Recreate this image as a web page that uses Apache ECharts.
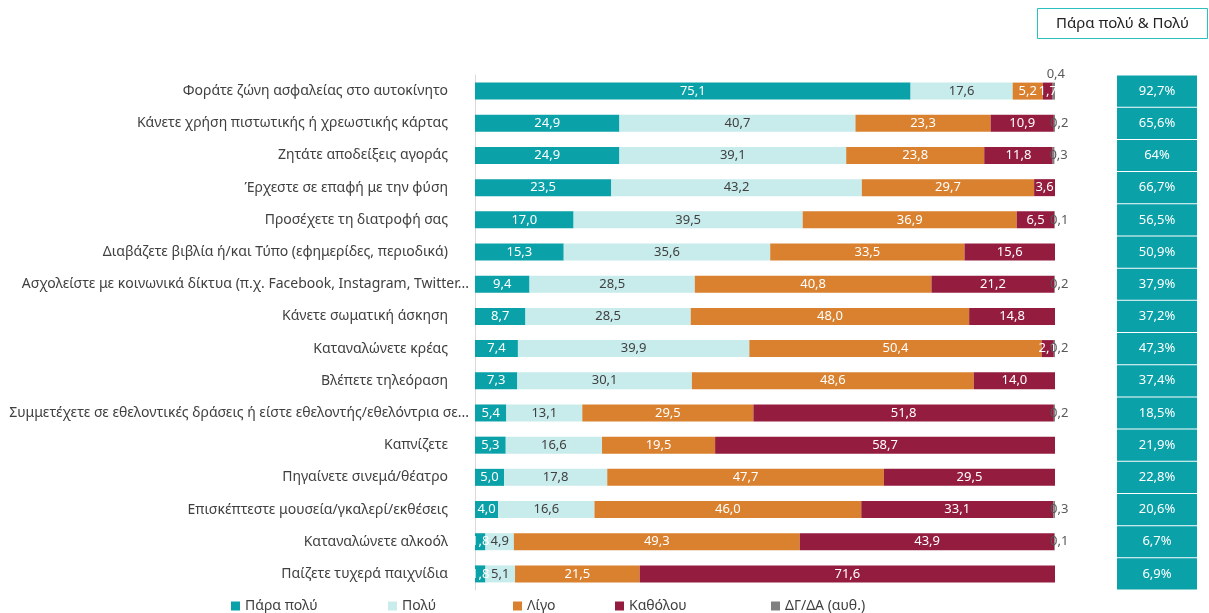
<!DOCTYPE html>
<html>
<head>
<meta charset="utf-8">
<script src="https://cdn.jsdelivr.net/npm/echarts@6/dist/echarts.min.js"></script>
<style>
  html, body { margin: 0; padding: 0; background: #fff; }
  #main { width: 1209px; height: 613px; }
</style>
</head>
<body>
<div id="main"></div>
<script>
// categories, top to bottom
const categories = [
    'Φοράτε ζώνη ασφαλείας στο αυτοκίνητο',
    'Κάνετε χρήση πιστωτικής ή χρεωστικής κάρτας',
    'Ζητάτε αποδείξεις αγοράς',
    'Έρχεστε σε επαφή με την φύση',
    'Προσέχετε τη διατροφή σας',
    'Διαβάζετε βιβλία ή/και Τύπο (εφημερίδες, περιοδικά)',
    'Ασχολείστε με κοινωνικά δίκτυα (π.χ. Facebook, Instagram, Twitter...',
    'Κάνετε σωματική άσκηση',
    'Καταναλώνετε κρέας',
    'Βλέπετε τηλεόραση',
    'Συμμετέχετε σε εθελοντικές δράσεις ή είστε εθελοντής/εθελόντρια σε...',
    'Καπνίζετε',
    'Πηγαίνετε σινεμά/θέατρο',
    'Επισκέπτεστε μουσεία/γκαλερί/εκθέσεις',
    'Καταναλώνετε αλκοόλ',
    'Παίζετε τυχερά παιχνίδια'
];
const seriesNames = ['Πάρα πολύ', 'Πολύ', 'Λίγο', 'Καθόλου', 'ΔΓ/ΔΑ (αυθ.)'];
const veryMuch = [75.1, 24.9, 24.9, 23.5, 17.0, 15.3, 9.4, 8.7, 7.4, 7.3, 5.4, 5.3, 5.0, 4.0, 1.8, 1.8];
const much     = [17.6, 40.7, 39.1, 43.2, 39.5, 35.6, 28.5, 28.5, 39.9, 30.1, 13.1, 16.6, 17.8, 16.6, 4.9, 5.1];
const little   = [5.2, 23.3, 23.8, 29.7, 36.9, 33.5, 40.8, 48.0, 50.4, 48.6, 29.5, 19.5, 47.7, 46.0, 49.3, 21.5];
const notAtAll = [1.7, 10.9, 11.8, 3.6, 6.5, 15.6, 21.2, 14.8, 2.1, 14.0, 51.8, 58.7, 29.5, 33.1, 43.9, 71.6];
const dkNa     = [0.4, 0.2, 0.3, 0, 0.1, 0, 0.2, 0, 0.2, 0, 0.2, 0, 0, 0.3, 0.1, 0];
const topTwo   = ['92,7%', '65,6%', '64%', '66,7%', '56,5%', '50,9%', '37,9%', '37,2%', '47,3%', '37,4%', '18,5%', '21,9%', '22,8%', '20,6%', '6,7%', '6,9%'];

const FONT = 'Noto Sans';
const fmt = p => p.value ? p.value.toFixed(1).replace('.', ',') : '';

function seg(name, data, color, labelColor) {
    return {
        name: name,
        type: 'bar',
        stack: 'all',
        barWidth: 17,
        data: data,
        itemStyle: {color: color},
        label: {show: true, position: 'inside', color: labelColor, fontFamily: FONT, fontSize: 13, formatter: fmt}
    };
}

// one legend per item, spaced like the original
const legendLeft = [226, 383, 508, 610, 766];

const chart = echarts.init(document.getElementById('main'));
chart.setOption({
    animation: false,
    textStyle: {fontFamily: FONT},
    legend: seriesNames.map((n, i) => ({
        left: legendLeft[i], top: 594, itemWidth: 9, itemHeight: 9, itemGap: 5,
        icon: 'rect',
        textStyle: {fontFamily: FONT, fontSize: 14, color: '#404040'},
        data: [n]
    })),
    graphic: [{
        type: 'group', left: 1037, top: 8,
        children: [
            {type: 'rect', shape: {x: 0, y: 0, width: 170, height: 30}, style: {fill: '#fff', stroke: '#2BC0C0', lineWidth: 1}},
            {type: 'text', x: 85, y: 15, style: {text: 'Πάρα πολύ & Πολύ', fill: '#222', font: '15px "Noto Sans"', align: 'center', verticalAlign: 'middle'}}
        ]
    }],
    grid: [
        {left: 475, right: 154, top: 75, bottom: 23},
        {left: 1117, right: 12, top: 75, bottom: 23}
    ],
    xAxis: [
        {gridIndex: 0, type: 'value', min: 0, max: 100, show: false},
        {gridIndex: 1, type: 'value', min: 0, max: 1, show: false}
    ],
    yAxis: [
        {
            gridIndex: 0, type: 'category', inverse: true, data: categories,
            axisLine: {show: true, lineStyle: {color: '#D9D9D9'}},
            axisTick: {show: false},
            axisLabel: {
                margin: 6, fontSize: 14, color: '#404040', fontFamily: FONT,
                // full labels sit further from the axis than the cut ones
                formatter: v => v.endsWith('...') ? '{cut|' + v + '}' : '{n|' + v + '}',
                rich: {
                    n: {fontSize: 14, color: '#404040', fontFamily: FONT, padding: [0, 21, 0, 0]},
                    cut: {fontSize: 14, color: '#404040', fontFamily: FONT}
                }
            }
        },
        {gridIndex: 1, type: 'category', inverse: true, data: categories, show: false}
    ],
    series: [
        seg(seriesNames[0], veryMuch, '#0AA1A8', '#fff'),
        seg(seriesNames[1], much, '#C8EBEC', '#404040'),
        seg(seriesNames[2], little, '#DA812F', '#fff'),
        seg(seriesNames[3], notAtAll, '#941C3F', '#fff'),
        {
            name: seriesNames[4],
            type: 'bar',
            stack: 'all',
            barWidth: 17,
            itemStyle: {color: '#808080'},
            data: dkNa.map((v, i) => i === 0 ? {value: v, label: {position: 'top', distance: 2, offset: [2, 0]}} : v),
            label: {show: true, position: 'right', distance: -5, color: '#595959', fontFamily: FONT, fontSize: 13, formatter: fmt}
        },
        {
            type: 'bar',
            xAxisIndex: 1, yAxisIndex: 1,
            barCategoryGap: 1,
            data: topTwo.map(() => 1),
            itemStyle: {color: '#0AA1A8'},
            silent: true,
            label: {show: true, position: 'inside', color: '#fff', fontFamily: FONT, fontSize: 13,
                formatter: p => topTwo[p.dataIndex]}
        }
    ]
});
</script>
</body>
</html>
